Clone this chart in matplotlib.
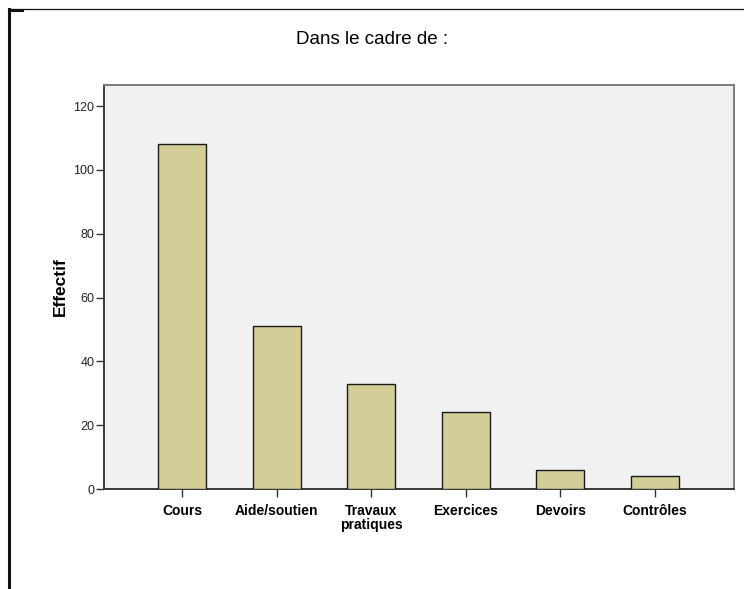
import matplotlib.pyplot as plt
from matplotlib.lines import Line2D

categories = ['Cours', 'Aide/soutien', 'Travaux\npratiques', 'Exercices',
              'Devoirs', 'Contrôles']
effectifs = [108, 51, 33, 24, 6, 4]
y_ticks = [0, 20, 40, 60, 80, 100, 120]

narrow = ['Liberation Sans Narrow', 'Liberation Sans', 'DejaVu Sans']
regular = ['Liberation Sans', 'DejaVu Sans']

fig = plt.figure(figsize=(7.44, 5.89), dpi=100)
ax = fig.add_axes([104 / 744, 1 - 489 / 589, 630 / 744, 404 / 589])

x = list(range(len(categories)))
ax.bar(x, effectifs, width=0.507, color='#d3cd97', edgecolor='#1a1a1a',
       linewidth=1.0, zorder=3)

ax.set_facecolor('#f0f1f0')
ax.set_xlim(-0.825, 5.835)
ax.set_ylim(0, 126.6)
ax.set_yticks(y_ticks)
ax.set_xticks(x)
ax.set_xticklabels(categories, family=narrow, fontweight='bold',
                   fontsize=10, linespacing=1.0)
for lab in ax.get_yticklabels():
    lab.set_family(narrow)
    lab.set_fontsize(9)
    lab.set_color('#222222')
ax.tick_params(axis='y', direction='out', length=6, width=1, color='#333333',
               pad=1)
ax.tick_params(axis='x', direction='out', length=6, width=1, color='#333333',
               pad=5)

for side in ['left', 'bottom']:
    ax.spines[side].set_color('#3a3a3a')
    ax.spines[side].set_linewidth(1.4)
for side in ['top', 'right']:
    ax.spines[side].set_color('#7a7a7a')
    ax.spines[side].set_linewidth(1.4)

ax.set_ylabel('Effectif', family=narrow, fontweight='bold', fontsize=12.5,
              labelpad=4)
fig.text(372 / 744, 1 - 40 / 589, 'Dans le cadre de :', family=regular,
         fontsize=13.5, ha='center', va='center')

# outer frame of the output window
fig.add_artist(Line2D([9 / 744, 9 / 744], [0, 1 - 9 / 589],
                      transform=fig.transFigure, color='#111111', lw=2.2))
fig.add_artist(Line2D([9 / 744, 1], [1 - 9 / 589, 1 - 9 / 589],
                      transform=fig.transFigure, color='#111111', lw=0.9))
fig.add_artist(Line2D([9 / 744, 22 / 744], [1 - 9.5 / 589, 1 - 9.5 / 589],
                      transform=fig.transFigure, color='#111111', lw=2.2))

fig.savefig('out.png', dpi=100)
